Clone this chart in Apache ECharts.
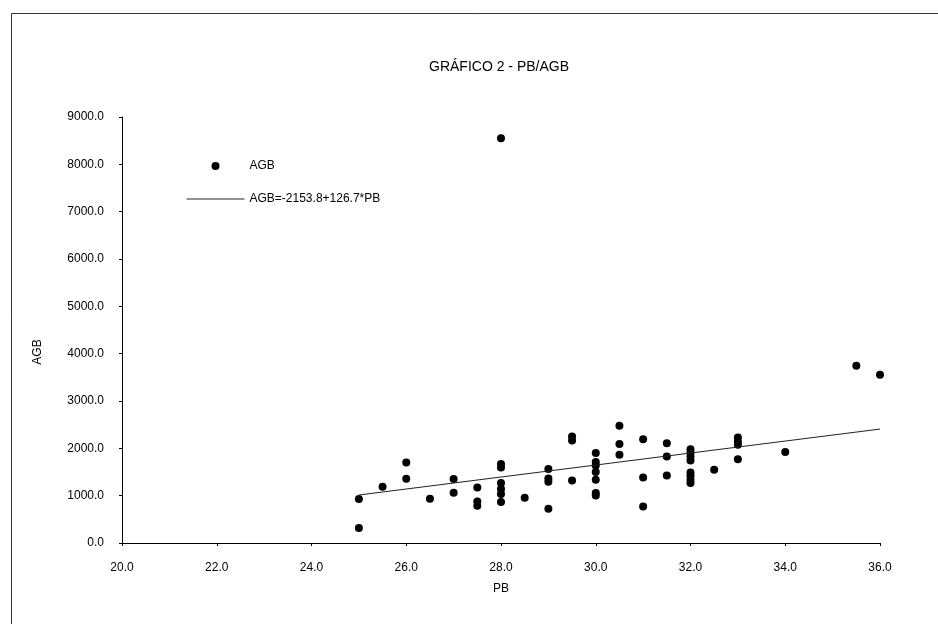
<!DOCTYPE html>
<html>
<head>
<meta charset="utf-8">
<script src="https://cdn.jsdelivr.net/npm/echarts@6/dist/echarts.min.js"></script>
<style>
html,body{margin:0;padding:0;background:#fff;}
#chart{width:938px;height:624px;}
</style>
</head>
<body>
<div id="chart"></div>
<script>
// PB values (x) and AGB values (y) of the scatter points
var pb  = [25, 25, 25.5, 26, 26, 26.5, 27, 27, 27.5, 27.5, 27.5,
           28, 28, 28, 28, 28, 28, 28, 28.5,
           29, 29, 29, 29, 29.5, 29.5, 29.5,
           30, 30, 30, 30, 30, 30, 30,
           30.5, 30.5, 30.5, 31, 31, 31, 31.5, 31.5, 31.5,
           32, 32, 32, 32, 32, 32, 32, 32, 32.5,
           33, 33, 33, 33, 34, 35.5, 36];
var agb = [930, 316, 1188, 1700, 1357, 934, 1350, 1061, 1174, 878, 787,
           8550, 1667, 1595, 1266, 1139, 1034, 865, 956,
           1561, 1363, 1293, 724, 2249, 2165, 1321,
           1899, 1709, 1637, 1498, 1335, 1055, 1004,
           2475, 2089, 1863, 2194, 1384, 772, 2110, 1827, 1426,
           1983, 1911, 1827, 1743, 1489, 1420, 1335, 1266, 1546,
           2228, 2143, 2074, 1772, 1920, 3747, 3557];
// Fitted line endpoints: AGB=-2153.8+126.7*PB
var trendX = [25, 36];
var trendY = [1014, 2407];

var scatterData = pb.map(function(v, i){ return [v, agb[i]]; });
var lineData = trendX.map(function(v, i){ return [v, trendY[i]]; });

var font = 'Liberation Sans, Arial, sans-serif';
var ink = '#000';

var chart = echarts.init(document.getElementById('chart'), null, {renderer:'canvas'});
chart.setOption({
  animation: false,
  backgroundColor: '#fff',
  title: {
    text: 'GRÁFICO 2 - PB/AGB',
    left: 424, top: 55,
    textStyle: {fontFamily: font, fontSize: 14, fontWeight: 'normal', color: ink}
  },
  legend: {
    orient: 'vertical',
    left: 181, top: 155,
    itemWidth: 58, itemHeight: 8, itemGap: 21,
    textStyle: {fontFamily: font, fontSize: 12, color: ink},
    data: [
      {name: 'AGB', icon: 'circle', itemStyle: {color: ink, opacity: 1}},
      {name: 'AGB=-2153.8+126.7*PB', itemStyle: {opacity: 0}, lineStyle: {color: '#222', width: 1}}
    ]
  },
  grid: {left: 122, right: 58, top: 117, bottom: 81, containLabel: false},
  xAxis: {
    type: 'value', min: 20, max: 36, interval: 2,
    name: 'PB', nameLocation: 'middle', nameGap: 40,
    nameTextStyle: {fontFamily: font, fontSize: 12, color: ink},
    axisLine: {lineStyle: {color: ink, width: 1}},
    axisTick: {show: true, length: 3, inside: false, lineStyle: {color: ink}},
    axisLabel: {margin: 19, fontFamily: font, fontSize: 12, color: ink,
      formatter: function(v){ return v.toFixed(1); }},
    splitLine: {show: false}
  },
  yAxis: {
    type: 'value', min: 0, max: 9000, interval: 1000,
    name: 'AGB', nameLocation: 'middle', nameGap: 78, nameRotate: 90,
    nameTextStyle: {fontFamily: font, fontSize: 12, color: ink, padding: [0, 44, 0, 0]},
    axisLine: {show: true, lineStyle: {color: ink, width: 1}},
    axisTick: {show: true, length: 3, lineStyle: {color: ink}},
    axisLabel: {margin: 18, fontFamily: font, fontSize: 12, color: ink,
      formatter: function(v){ return v.toFixed(1); }},
    splitLine: {show: false}
  },
  series: [
    {
      name: 'AGB', type: 'scatter', symbol: 'circle', symbolSize: 8,
      itemStyle: {color: ink, opacity: 1},
      data: scatterData
    },
    {
      name: 'AGB=-2153.8+126.7*PB', type: 'line', symbol: 'none',
      lineStyle: {color: '#222', width: 1},
      itemStyle: {color: '#222'},
      data: lineData
    }
  ],
  graphic: [
    {type: 'rect', left: 9, top: 11, silent: true,
     shape: {width: 940, height: 620},
     style: {fill: 'none', stroke: '#333', lineWidth: 1}}
  ]
});
</script>
</body>
</html>
